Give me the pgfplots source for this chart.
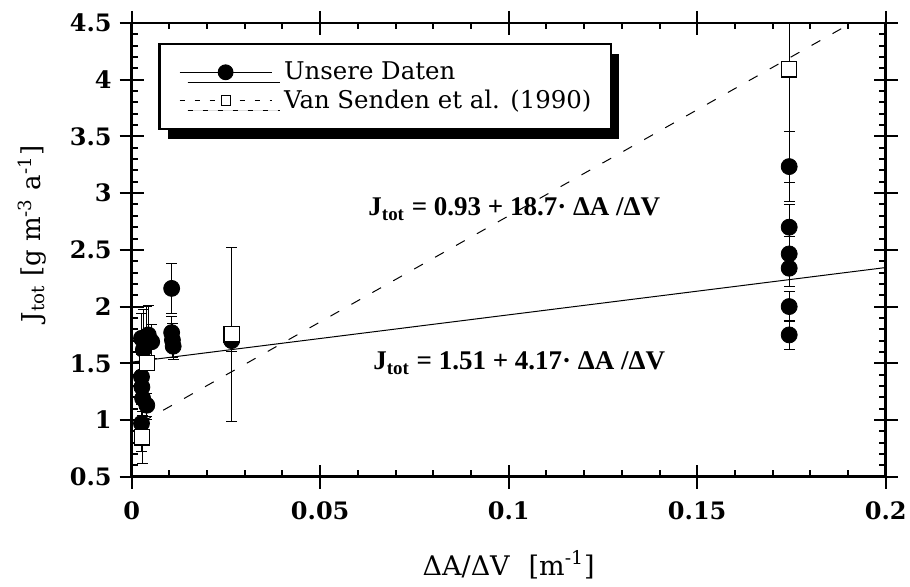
\documentclass[border=0pt]{standalone}
\usepackage{pgfplots}
\pgfplotsset{compat=1.18}
\usepackage{fontspec}
\setmainfont{DejaVu Serif}
\newfontfamily\annfont{Liberation Serif}
\usetikzlibrary{shadows}

\begin{document}
\begin{tikzpicture}
\path[use as bounding box] (-65.85pt,-55.15pt) rectangle (389.15pt,238.35pt);
\begin{axis}[
  scale only axis, width=377pt, height=226.85pt,
  xmin=0, xmax=0.2, ymin=0.5, ymax=4.5,
  /pgf/number format/assume math mode=true,
  xtick={0,0.05,0.1,0.15,0.2}, xticklabels={0,0.05,0.1,0.15,0.2},
  ytick={0.5,1,1.5,2,2.5,3,3.5,4,4.5}, yticklabels={0.5,1,1.5,2,2.5,3,3.5,4,4.5},
  minor x tick num=4, minor y tick num=4,
  tick align=inside, major tick length=6pt, minor tick length=3.2pt,
  every tick/.style={black, line width=1pt},
  axis line style={line width=1.3pt},
  extra x ticks={0,0.05,0.1,0.15,0.2}, extra x tick labels={},
  extra y ticks={0.5,1,1.5,2,2.5,3,3.5,4,4.5}, extra y tick labels={},
  extra x tick style={tick align=outside, major tick length=6pt},
  extra y tick style={tick align=outside, major tick length=6pt},
  xticklabel style={font=\fontsize{12}{15}\selectfont\bfseries, inner sep=0pt, anchor=north, yshift=-12.5pt},
  yticklabel style={font=\fontsize{12}{15}\selectfont\bfseries, inner sep=0pt, anchor=east, xshift=-9.85pt},
  xlabel={ΔA/ΔV\hspace{0.7em}[m\textsuperscript{-1}]},
  xlabel style={at={(axis description cs:0.5,-0.1946)}, anchor=center, font=\fontsize{13.5}{15}\selectfont},
  ylabel={J\textsubscript{tot} [g m\textsuperscript{-3} a\textsuperscript{-1}]},
  ylabel style={at={(axis description cs:-0.132,0.535)}, anchor=center, font=\fontsize{13}{15}\selectfont},
  legend image code/.code={\draw[mark repeat=2,mark phase=2,#1] plot coordinates {(0pt,0pt) (23pt,0pt) (46pt,0pt)};},
  legend cell align=left,
  legend style={at={(axis description cs:0.0353,0.9566)}, anchor=north west,
    draw=black, line width=1.2pt, fill=white,
    font=\fontsize{12.2}{14}\selectfont,
    nodes={inner sep=0pt}, inner xsep=9.8pt, inner ysep=9pt,
    /tikz/column sep=6pt, /tikz/row sep=3.5pt,
    drop shadow={shadow xshift=4pt, shadow yshift=-5pt, fill=black, opacity=1}},
]
% regression lines
\addplot[black, line width=0.5pt, forget plot] coordinates {(0,1.51) (0.2,2.344)};
\addplot[black, line width=0.5pt, dash pattern=on 5pt off 7pt, forget plot] coordinates {(0.0028,0.982) (0.2,4.67)};
% Unsere Daten
\addplot[only marks, mark=*, mark size=4pt, black, forget plot,
  error bars/.cd, y dir=both, y explicit,
  error bar style={line width=0.5pt, black},
  error mark options={rotate=90, black, mark size=2.7pt, line width=0.5pt}]
coordinates {
  (0.0026,1.72) +- (0,0.22)
  (0.0044,1.75) +- (0,0.26)
  (0.0053,1.69) +- (0,0.15)
  (0.0031,1.62) +- (0,0.35)
  (0.0026,1.38) +- (0,0.20)
  (0.0027,1.29) +- (0,0.15)
  (0.0029,1.19) +- (0,0.15)
  (0.0040,1.13) +- (0,0.10)
  (0.0026,0.97) +- (0,0.25)
  (0.0106,2.16) +- (0,0.22)
  (0.0106,1.77) +- (0,0.14)
  (0.0108,1.705) +- (0,0.15)
  (0.0110,1.65) +- (0,0.115)
  (0.0265,1.70) +- (0,0.10)
  (0.1744,3.234) +- (0,0.31)
  (0.1744,2.70) +- (0,0.20)
  (0.1744,2.464) +- (0,0.15)
  (0.1744,2.338) +- (0,0.16)
  (0.1744,2.00) +- (0,0.13)
  (0.1744,1.75) +- (0,0.13)
};
% Van Senden et al.
\addplot[only marks, mark=square*, mark size=3.8pt, mark options={fill=white, draw=black, line width=0.6pt}, forget plot,
  error bars/.cd, y dir=both, y explicit,
  error bar style={line width=0.5pt, black},
  error mark options={rotate=90, black, mark size=2.7pt, line width=0.5pt}]
coordinates {
  (0.0028,0.847) +- (0,0.23)
  (0.0040,1.50) +- (0,0.50)
  (0.0265,1.755) +- (0,0.77)
  (0.1744,4.09) +- (0,1.00)
};
\addlegendimage{black, line width=0.5pt, mark=*, mark size=3.7pt}
\addlegendentry{Unsere Daten}
\addlegendimage{black, line width=0.5pt, dash pattern=on 2.5pt off 5pt, mark=square*, mark size=2.3pt, mark options={solid, fill=white, draw=black, line width=0.5pt}}
\addlegendentry{Van Senden et al. (1990)}
% annotations
\node[anchor=base west, inner sep=0pt, font=\annfont\fontsize{13.5}{16}\selectfont\bfseries] at (axis cs:0.0627,2.799) {J\textsubscript{tot} = 0.93 + 18.7· ΔA /ΔV};
\node[anchor=base west, inner sep=0pt, font=\annfont\fontsize{13.5}{16}\selectfont\bfseries] at (axis cs:0.064,1.441) {J\textsubscript{tot} = 1.51 + 4.17· ΔA /ΔV};
\end{axis}
\end{tikzpicture}
\end{document}
